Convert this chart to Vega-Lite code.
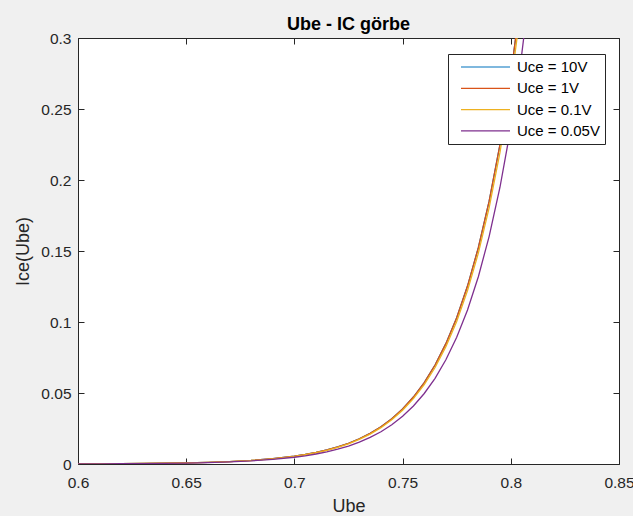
{
  "$schema": "https://vega.github.io/schema/vega-lite/v6.json",
  "width": 541,
  "height": 426,
  "autosize": "none",
  "padding": {"left": 78, "top": 38, "right": 14, "bottom": 52},
  "background": "#f0f0f0",
  "title": {
    "text": "Ube - IC görbe",
    "font": "Liberation Sans",
    "fontSize": 18,
    "fontWeight": "bold",
    "color": "#000000",
    "anchor": "middle",
    "baseline": "bottom",
    "offset": 6,
    "dy": 27
  },
  "config": {
    "font": "Liberation Sans",
    "view": {"stroke": "#262626", "strokeWidth": 1, "fill": "white"},
    "axis": {
      "domain": false,
      "grid": false,
      "labelFlush": false,
      "tickColor": "#262626",
      "tickSize": -6,
      "labelColor": "#262626",
      "labelFont": "Liberation Sans",
      "labelFontSize": 15.5,
      "titleColor": "#262626",
      "titleFont": "Liberation Sans",
      "titleFontSize": 18,
      "titleFontWeight": "normal"
    },
    "legend": {
      "orient": "none",
      "legendX": 370,
      "legendY": 16,
      "labelFont": "Liberation Sans",
      "labelFontSize": 15,
      "labelColor": "#000000",
      "symbolType": "stroke",
      "symbolSize": 2401,
      "symbolStrokeWidth": 1.2,
      "clipHeight": 16,
      "rowPadding": 5.3,
      "padding": 5,
      "symbolOffset": 7,
      "labelOffset": 6,
      "strokeColor": "#262626",
      "fillColor": "white"
    }
  },
  "datasets": {
    "curves": [
      {"Uce": "10V", "Ube": 0.60, "Ice": 0.000111},
      {"Uce": "10V", "Ube": 0.61, "Ice": 0.000164},
      {"Uce": "10V", "Ube": 0.62, "Ice": 0.000242},
      {"Uce": "10V", "Ube": 0.63, "Ice": 0.000358},
      {"Uce": "10V", "Ube": 0.64, "Ice": 0.000528},
      {"Uce": "10V", "Ube": 0.65, "Ice": 0.000780},
      {"Uce": "10V", "Ube": 0.66, "Ice": 0.001154},
      {"Uce": "10V", "Ube": 0.67, "Ice": 0.001705},
      {"Uce": "10V", "Ube": 0.68, "Ice": 0.00252},
      {"Uce": "10V", "Ube": 0.69, "Ice": 0.003724},
      {"Uce": "10V", "Ube": 0.70, "Ice": 0.005502},
      {"Uce": "10V", "Ube": 0.705, "Ice": 0.00669},
      {"Uce": "10V", "Ube": 0.71, "Ice": 0.00813},
      {"Uce": "10V", "Ube": 0.715, "Ice": 0.00989},
      {"Uce": "10V", "Ube": 0.72, "Ice": 0.01202},
      {"Uce": "10V", "Ube": 0.725, "Ice": 0.01461},
      {"Uce": "10V", "Ube": 0.73, "Ice": 0.01776},
      {"Uce": "10V", "Ube": 0.735, "Ice": 0.02160},
      {"Uce": "10V", "Ube": 0.74, "Ice": 0.02625},
      {"Uce": "10V", "Ube": 0.745, "Ice": 0.03192},
      {"Uce": "10V", "Ube": 0.75, "Ice": 0.0388},
      {"Uce": "10V", "Ube": 0.755, "Ice": 0.04717},
      {"Uce": "10V", "Ube": 0.76, "Ice": 0.05734},
      {"Uce": "10V", "Ube": 0.765, "Ice": 0.06971},
      {"Uce": "10V", "Ube": 0.77, "Ice": 0.08475},
      {"Uce": "10V", "Ube": 0.775, "Ice": 0.1030},
      {"Uce": "10V", "Ube": 0.78, "Ice": 0.1253},
      {"Uce": "10V", "Ube": 0.785, "Ice": 0.1523},
      {"Uce": "10V", "Ube": 0.79, "Ice": 0.1851},
      {"Uce": "10V", "Ube": 0.795, "Ice": 0.2250},
      {"Uce": "10V", "Ube": 0.80, "Ice": 0.2736},
      {"Uce": "10V", "Ube": 0.805, "Ice": 0.3326},

      {"Uce": "1V", "Ube": 0.60, "Ice": 0.000111},
      {"Uce": "1V", "Ube": 0.61, "Ice": 0.000164},
      {"Uce": "1V", "Ube": 0.62, "Ice": 0.000242},
      {"Uce": "1V", "Ube": 0.63, "Ice": 0.000358},
      {"Uce": "1V", "Ube": 0.64, "Ice": 0.000528},
      {"Uce": "1V", "Ube": 0.65, "Ice": 0.000780},
      {"Uce": "1V", "Ube": 0.66, "Ice": 0.001154},
      {"Uce": "1V", "Ube": 0.67, "Ice": 0.001705},
      {"Uce": "1V", "Ube": 0.68, "Ice": 0.00252},
      {"Uce": "1V", "Ube": 0.69, "Ice": 0.003724},
      {"Uce": "1V", "Ube": 0.70, "Ice": 0.005502},
      {"Uce": "1V", "Ube": 0.705, "Ice": 0.00669},
      {"Uce": "1V", "Ube": 0.71, "Ice": 0.00813},
      {"Uce": "1V", "Ube": 0.715, "Ice": 0.00989},
      {"Uce": "1V", "Ube": 0.72, "Ice": 0.01202},
      {"Uce": "1V", "Ube": 0.725, "Ice": 0.01461},
      {"Uce": "1V", "Ube": 0.73, "Ice": 0.01776},
      {"Uce": "1V", "Ube": 0.735, "Ice": 0.02160},
      {"Uce": "1V", "Ube": 0.74, "Ice": 0.02625},
      {"Uce": "1V", "Ube": 0.745, "Ice": 0.03192},
      {"Uce": "1V", "Ube": 0.75, "Ice": 0.0388},
      {"Uce": "1V", "Ube": 0.755, "Ice": 0.04717},
      {"Uce": "1V", "Ube": 0.76, "Ice": 0.05734},
      {"Uce": "1V", "Ube": 0.765, "Ice": 0.06971},
      {"Uce": "1V", "Ube": 0.77, "Ice": 0.08475},
      {"Uce": "1V", "Ube": 0.775, "Ice": 0.1030},
      {"Uce": "1V", "Ube": 0.78, "Ice": 0.1253},
      {"Uce": "1V", "Ube": 0.785, "Ice": 0.1523},
      {"Uce": "1V", "Ube": 0.79, "Ice": 0.1851},
      {"Uce": "1V", "Ube": 0.795, "Ice": 0.2250},
      {"Uce": "1V", "Ube": 0.80, "Ice": 0.2736},
      {"Uce": "1V", "Ube": 0.805, "Ice": 0.3326},

      {"Uce": "0.1V", "Ube": 0.60, "Ice": 0.000108},
      {"Uce": "0.1V", "Ube": 0.61, "Ice": 0.000160},
      {"Uce": "0.1V", "Ube": 0.62, "Ice": 0.000236},
      {"Uce": "0.1V", "Ube": 0.63, "Ice": 0.000349},
      {"Uce": "0.1V", "Ube": 0.64, "Ice": 0.000515},
      {"Uce": "0.1V", "Ube": 0.65, "Ice": 0.000761},
      {"Uce": "0.1V", "Ube": 0.66, "Ice": 0.001125},
      {"Uce": "0.1V", "Ube": 0.67, "Ice": 0.001662},
      {"Uce": "0.1V", "Ube": 0.68, "Ice": 0.002457},
      {"Uce": "0.1V", "Ube": 0.69, "Ice": 0.003631},
      {"Uce": "0.1V", "Ube": 0.70, "Ice": 0.005364},
      {"Uce": "0.1V", "Ube": 0.705, "Ice": 0.006523},
      {"Uce": "0.1V", "Ube": 0.71, "Ice": 0.007927},
      {"Uce": "0.1V", "Ube": 0.715, "Ice": 0.009643},
      {"Uce": "0.1V", "Ube": 0.72, "Ice": 0.01172},
      {"Uce": "0.1V", "Ube": 0.725, "Ice": 0.01424},
      {"Uce": "0.1V", "Ube": 0.73, "Ice": 0.01732},
      {"Uce": "0.1V", "Ube": 0.735, "Ice": 0.02106},
      {"Uce": "0.1V", "Ube": 0.74, "Ice": 0.02559},
      {"Uce": "0.1V", "Ube": 0.745, "Ice": 0.03112},
      {"Uce": "0.1V", "Ube": 0.75, "Ice": 0.03783},
      {"Uce": "0.1V", "Ube": 0.755, "Ice": 0.04599},
      {"Uce": "0.1V", "Ube": 0.76, "Ice": 0.05591},
      {"Uce": "0.1V", "Ube": 0.765, "Ice": 0.06797},
      {"Uce": "0.1V", "Ube": 0.77, "Ice": 0.08263},
      {"Uce": "0.1V", "Ube": 0.775, "Ice": 0.1004},
      {"Uce": "0.1V", "Ube": 0.78, "Ice": 0.1222},
      {"Uce": "0.1V", "Ube": 0.785, "Ice": 0.1485},
      {"Uce": "0.1V", "Ube": 0.79, "Ice": 0.1805},
      {"Uce": "0.1V", "Ube": 0.795, "Ice": 0.2194},
      {"Uce": "0.1V", "Ube": 0.80, "Ice": 0.2668},
      {"Uce": "0.1V", "Ube": 0.805, "Ice": 0.3243},

      {"Uce": "0.05V", "Ube": 0.60, "Ice": 0.0000961},
      {"Uce": "0.05V", "Ube": 0.61, "Ice": 0.000142},
      {"Uce": "0.05V", "Ube": 0.62, "Ice": 0.000210},
      {"Uce": "0.05V", "Ube": 0.63, "Ice": 0.000310},
      {"Uce": "0.05V", "Ube": 0.64, "Ice": 0.000457},
      {"Uce": "0.05V", "Ube": 0.65, "Ice": 0.000675},
      {"Uce": "0.05V", "Ube": 0.66, "Ice": 0.000999},
      {"Uce": "0.05V", "Ube": 0.67, "Ice": 0.001477},
      {"Uce": "0.05V", "Ube": 0.68, "Ice": 0.002182},
      {"Uce": "0.05V", "Ube": 0.69, "Ice": 0.003225},
      {"Uce": "0.05V", "Ube": 0.70, "Ice": 0.004765},
      {"Uce": "0.05V", "Ube": 0.705, "Ice": 0.005794},
      {"Uce": "0.05V", "Ube": 0.71, "Ice": 0.007041},
      {"Uce": "0.05V", "Ube": 0.715, "Ice": 0.008565},
      {"Uce": "0.05V", "Ube": 0.72, "Ice": 0.01041},
      {"Uce": "0.05V", "Ube": 0.725, "Ice": 0.01265},
      {"Uce": "0.05V", "Ube": 0.73, "Ice": 0.01538},
      {"Uce": "0.05V", "Ube": 0.735, "Ice": 0.01871},
      {"Uce": "0.05V", "Ube": 0.74, "Ice": 0.02273},
      {"Uce": "0.05V", "Ube": 0.745, "Ice": 0.02764},
      {"Uce": "0.05V", "Ube": 0.75, "Ice": 0.03360},
      {"Uce": "0.05V", "Ube": 0.755, "Ice": 0.04085},
      {"Uce": "0.05V", "Ube": 0.76, "Ice": 0.04966},
      {"Uce": "0.05V", "Ube": 0.765, "Ice": 0.06037},
      {"Uce": "0.05V", "Ube": 0.77, "Ice": 0.07339},
      {"Uce": "0.05V", "Ube": 0.775, "Ice": 0.08920},
      {"Uce": "0.05V", "Ube": 0.78, "Ice": 0.1085},
      {"Uce": "0.05V", "Ube": 0.785, "Ice": 0.1319},
      {"Uce": "0.05V", "Ube": 0.79, "Ice": 0.1603},
      {"Uce": "0.05V", "Ube": 0.795, "Ice": 0.1949},
      {"Uce": "0.05V", "Ube": 0.80, "Ice": 0.2369},
      {"Uce": "0.05V", "Ube": 0.805, "Ice": 0.2880},
      {"Uce": "0.05V", "Ube": 0.81, "Ice": 0.3502}
    ]
  },
  "layer": [
    {
      "data": {"values": []},
      "mark": {"type": "rule"},
      "encoding": {
        "x": {
          "field": "Ube",
          "type": "quantitative",
          "scale": {"domain": [0.6, 0.85], "nice": false, "zero": false},
          "axis": {"orient": "top", "labels": false, "title": null, "values": [0.6, 0.65, 0.7, 0.75, 0.8, 0.85]}
        },
        "y": {
          "field": "Ice",
          "type": "quantitative",
          "scale": {"domain": [0, 0.3], "nice": false},
          "axis": {"orient": "right", "labels": false, "title": null, "values": [0, 0.05, 0.1, 0.15, 0.2, 0.25, 0.3]}
        }
      }
    },
    {
      "data": {"name": "curves"},
      "mark": {"type": "line", "strokeWidth": 1.3, "clip": true},
      "encoding": {
        "x": {
          "field": "Ube",
          "type": "quantitative",
          "scale": {"domain": [0.6, 0.85], "nice": false, "zero": false},
          "axis": {"orient": "bottom", "title": "Ube", "format": "~g", "labelPadding": 17, "titlePadding": 7, "values": [0.6, 0.65, 0.7, 0.75, 0.8, 0.85]}
        },
        "y": {
          "field": "Ice",
          "type": "quantitative",
          "scale": {"domain": [0, 0.3], "nice": false},
          "axis": {"orient": "left", "title": "Ice(Ube)", "format": "~g", "labelPadding": 13, "titlePadding": 8, "values": [0, 0.05, 0.1, 0.15, 0.2, 0.25, 0.3]}
        },
        "color": {
          "field": "Uce",
          "type": "nominal",
          "scale": {
            "domain": ["10V", "1V", "0.1V", "0.05V"],
            "range": ["#0072BD", "#D95319", "#EDB120", "#7E2F8E"]
          },
          "legend": {"title": null, "labelExpr": "'Uce = ' + datum.label"}
        }
      }
    }
  ],
  "resolve": {"axis": {"x": "independent", "y": "independent"}}
}
